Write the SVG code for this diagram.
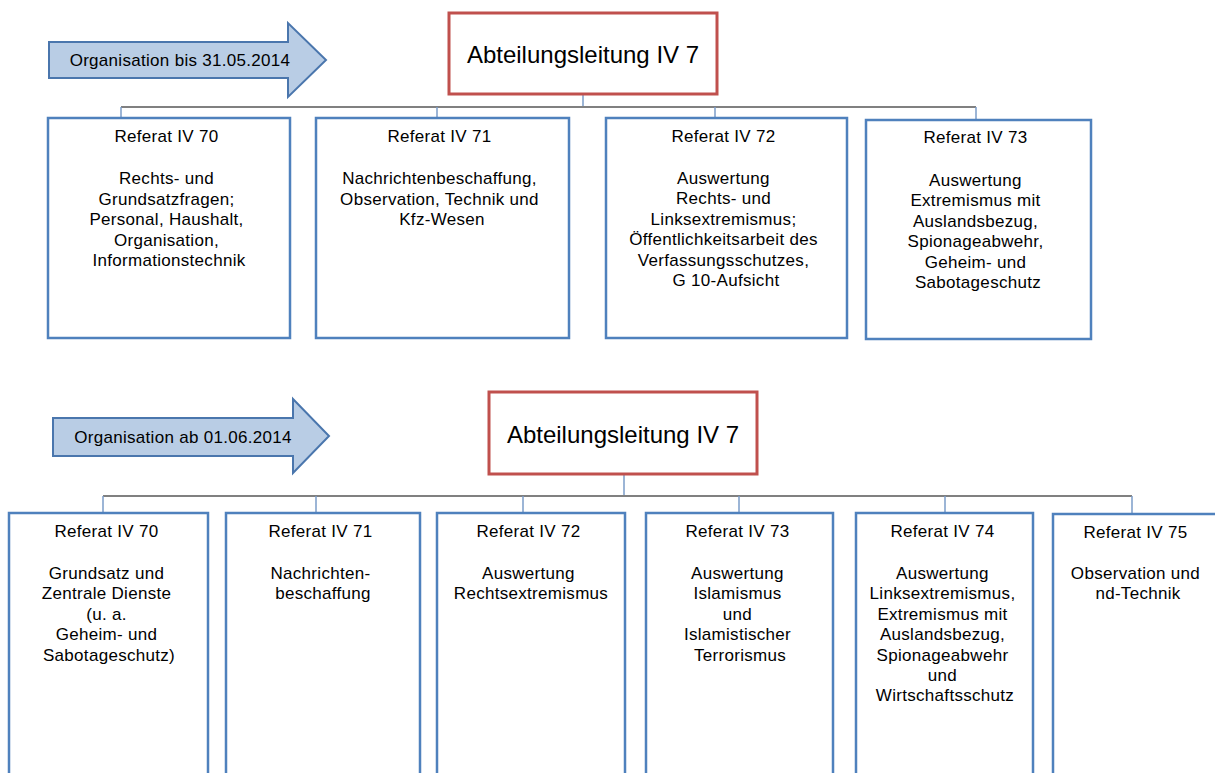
<svg xmlns="http://www.w3.org/2000/svg" width="1215" height="773" viewBox="0 0 1215 773">
<style>
  text { font-family: "Liberation Sans", Arial, sans-serif; fill: #000; }
  .arrow { fill: #b9cde5; stroke: #4a76ad; stroke-width: 2; stroke-linejoin: miter; }
  .arrowtxt { font-size: 17px; letter-spacing: 0.3px; text-anchor: middle; }
  .head { fill: #fff; stroke: #c0504d; stroke-width: 3; }
  .headtxt { font-size: 24px; text-anchor: middle; }
  .box { fill: #fff; stroke: #4f81bd; stroke-width: 2.5; }
  .boxtxt { font-size: 17px; letter-spacing: 0.3px; text-anchor: middle; }
  .hline { stroke: #808080; stroke-width: 2; fill: none; }
  .vline { stroke: #7b9dc9; stroke-width: 1.5; fill: none; }
</style>
<rect width="1215" height="773" fill="#fff"/>

<!-- connectors -->
<g id="connectors">
  <line class="vline" x1="583" y1="94" x2="583" y2="107"/>
  <line class="hline" x1="121" y1="107" x2="976" y2="107"/>
  <line class="vline" x1="121" y1="107" x2="121" y2="118"/>
  <line class="vline" x1="437" y1="107" x2="437" y2="118"/>
  <line class="vline" x1="715" y1="107" x2="715" y2="118"/>
  <line class="vline" x1="976" y1="107" x2="976" y2="120"/>

  <line class="vline" x1="624" y1="474" x2="624" y2="496"/>
  <line class="hline" x1="103" y1="496" x2="1132" y2="496"/>
  <line class="vline" x1="103" y1="496" x2="103" y2="513"/>
  <line class="vline" x1="316" y1="496" x2="316" y2="513"/>
  <line class="vline" x1="523" y1="496" x2="523" y2="513"/>
  <line class="vline" x1="739" y1="496" x2="739" y2="513"/>
  <line class="vline" x1="945" y1="496" x2="945" y2="513"/>
  <line class="vline" x1="1132" y1="496" x2="1132" y2="514"/>
</g>

<!-- top section -->
<g id="arrow-old">
  <polygon class="arrow" points="49,42 288,42 288,23 326,60 288,97 288,78 49,78"/>
  <text class="arrowtxt" x="180" y="66">Organisation bis 31.05.2014</text>
</g>
<g id="head-old">
  <rect class="head" x="449" y="13" width="268" height="81"/>
  <text class="headtxt" x="583" y="63">Abteilungsleitung IV 7</text>
</g>
<g id="old-ref70">
  <rect class="box" x="48" y="118" width="242" height="220"/>
  <text class="boxtxt" x="169" y="142">Referat IV 70
    <tspan x="169" y="184">Rechts- und</tspan>
    <tspan x="169" dy="20.6">Grundsatzfragen;</tspan>
    <tspan x="169" dy="20.6">Personal, Haushalt,</tspan>
    <tspan x="169" dy="20.6">Organisation,</tspan>
    <tspan x="169" dy="20.6">Informationstechnik</tspan>
  </text>
</g>
<g id="old-ref71">
  <rect class="box" x="316" y="118" width="253" height="220"/>
  <text class="boxtxt" x="442" y="142">Referat IV 71
    <tspan x="442" y="184">Nachrichtenbeschaffung,</tspan>
    <tspan x="442" dy="20.6">Observation, Technik und</tspan>
    <tspan x="442" dy="20.6">Kfz-Wesen</tspan>
  </text>
</g>
<g id="old-ref72">
  <rect class="box" x="606" y="118" width="241" height="220"/>
  <text class="boxtxt" x="726" y="142">Referat IV 72
    <tspan x="726" y="184">Auswertung</tspan>
    <tspan x="726" dy="20.4">Rechts- und</tspan>
    <tspan x="726" dy="20.4">Linksextremismus;</tspan>
    <tspan x="726" dy="20.4">Öffentlichkeitsarbeit des</tspan>
    <tspan x="726" dy="20.4">Verfassungsschutzes,</tspan>
    <tspan x="726" dy="20.4">G 10-Aufsicht</tspan>
  </text>
</g>
<g id="old-ref73">
  <rect class="box" x="866" y="120" width="225" height="219"/>
  <text class="boxtxt" x="978" y="143">Referat IV 73
    <tspan x="978" y="186">Auswertung</tspan>
    <tspan x="978" dy="20.4">Extremismus mit</tspan>
    <tspan x="978" dy="20.4">Auslandsbezug,</tspan>
    <tspan x="978" dy="20.4">Spionageabwehr,</tspan>
    <tspan x="978" dy="20.4">Geheim- und</tspan>
    <tspan x="978" dy="20.4">Sabotageschutz</tspan>
  </text>
</g>

<!-- bottom section -->
<g id="arrow-new">
  <polygon class="arrow" points="53,418 293,418 293,399 329,436 293,473 293,456 53,456"/>
  <text class="arrowtxt" x="183" y="443">Organisation ab 01.06.2014</text>
</g>
<g id="head-new">
  <rect class="head" x="489" y="392" width="268" height="82"/>
  <text class="headtxt" x="623" y="443">Abteilungsleitung IV 7</text>
</g>
<g id="new-ref70">
  <rect class="box" x="9" y="513" width="199" height="280"/>
  <text class="boxtxt" x="109" y="537">Referat IV 70
    <tspan x="109" y="579">Grundsatz und</tspan>
    <tspan x="109" dy="20.4">Zentrale Dienste</tspan>
    <tspan x="109" dy="20.4">(u. a.</tspan>
    <tspan x="109" dy="20.4">Geheim- und</tspan>
    <tspan x="109" dy="20.4">Sabotageschutz)</tspan>
  </text>
</g>
<g id="new-ref71">
  <rect class="box" x="226" y="513" width="194" height="280"/>
  <text class="boxtxt" x="323" y="537">Referat IV 71
    <tspan x="323" y="579">Nachrichten-</tspan>
    <tspan x="323" dy="20.4">beschaffung</tspan>
  </text>
</g>
<g id="new-ref72">
  <rect class="box" x="437" y="513" width="188" height="280"/>
  <text class="boxtxt" x="531" y="537">Referat IV 72
    <tspan x="531" y="579">Auswertung</tspan>
    <tspan x="531" dy="20.4">Rechtsextremismus</tspan>
  </text>
</g>
<g id="new-ref73">
  <rect class="box" x="646" y="513" width="187" height="280"/>
  <text class="boxtxt" x="740" y="537">Referat IV 73
    <tspan x="740" y="579">Auswertung</tspan>
    <tspan x="740" dy="20.4">Islamismus</tspan>
    <tspan x="740" dy="20.4">und</tspan>
    <tspan x="740" dy="20.4">Islamistischer</tspan>
    <tspan x="740" dy="20.4">Terrorismus</tspan>
  </text>
</g>
<g id="new-ref74">
  <rect class="box" x="856" y="513" width="177" height="280"/>
  <text class="boxtxt" x="945" y="537">Referat IV 74
    <tspan x="945" y="579">Auswertung</tspan>
    <tspan x="945" dy="20.4">Linksextremismus,</tspan>
    <tspan x="945" dy="20.4">Extremismus mit</tspan>
    <tspan x="945" dy="20.4">Auslandsbezug,</tspan>
    <tspan x="945" dy="20.4">Spionageabwehr</tspan>
    <tspan x="945" dy="20.4">und</tspan>
    <tspan x="945" dy="20.4">Wirtschaftsschutz</tspan>
  </text>
</g>
<g id="new-ref75">
  <rect class="box" x="1053" y="514" width="170" height="280"/>
  <text class="boxtxt" x="1138" y="538">Referat IV 75
    <tspan x="1138" y="579">Observation und</tspan>
    <tspan x="1138" dy="20.4">nd-Technik</tspan>
  </text>
</g>
</svg>
